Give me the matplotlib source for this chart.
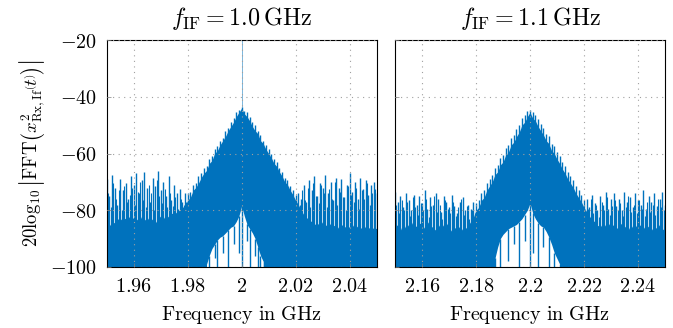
import numpy as np
import matplotlib
matplotlib.use("Agg")
import matplotlib.pyplot as plt

# FFT spectra, one sample per MHz (dB values)
freq_a = np.round(np.linspace(1.95, 2.05, 101), 3)
freq_b = np.round(np.linspace(2.15, 2.25, 101), 3)

# dense part of the spectrum (top of the solid mass)
body_a = [-85, -85.5, -84, -84.5, -83, -83.5, -82.5, -83, -82, -83.5,
          -82.5, -83, -84, -82, -83.5, -82.5, -84, -83, -84.5, -83,
          -82, -83, -81.5, -82.5, -81, -81.5, -80.5, -80, -79, -78.5,
          -76.5, -75.5, -73, -72, -70.5, -68.5, -67, -66, -63.5, -62.5,
          -60, -59, -57, -55.5, -54, -52, -50.5, -49, -47, -45.5,
          -44,
          -46, -47, -48.5, -50.5, -52, -53, -55.5, -56.5, -58.5, -60,
          -61.5, -63.5, -64.5, -66.5, -68, -70, -71, -73, -74.5, -76.5,
          -78, -80, -81.5, -82.5, -83.5, -84, -85, -84.5, -85.5, -84,
          -85, -86, -84.5, -85.5, -85, -86.5, -85, -86, -85.5, -86,
          -85, -86.5, -85.5, -86, -87, -85.5, -86, -87, -86, -86.5]
# tips of the single spikes
peak_a = [-69, -75, -67.5, -72, -78, -69, -73, -70.5, -76, -68,
          -71, -67, -74, -69.5, -66.5, -72, -77, -68.5, -71.5, -66,
          -73, -70, -75, -68, -76.5, -71, -74, -72.5, -77, -74,
          -74, -73.5, -71, -70.5, -68, -67, -65, -64.5, -62, -61,
          -58.5, -57.5, -55.5, -54.5, -52, -51, -49, -47.5, -45.5, -44.5,
          -43.5,
          -45, -45.5, -47, -49, -50, -52, -53.5, -55.5, -57, -58.5,
          -60, -62, -63, -65, -66.5, -68.5, -69.5, -71.5, -73, -74.5,
          -74, -76, -71, -77, -69.5, -73, -68, -75, -70.5, -72,
          -67.5, -74, -70, -76.5, -68.5, -72, -69, -75.5, -71, -67,
          -73.5, -70, -76, -68.5, -72.5, -69.5, -74.5, -71, -70, -74]
# spikes half a bin to the right, outer bands only (bins 0-29 and 71-99)
mid_lo_a = [-74, -79, -70.5, -76, -73, -80, -71.5, -77, -74.5, -72,
            -78, -73.5, -70, -76.5, -79, -71, -74, -80, -69.5, -75,
            -77.5, -72.5, -79, -74, -78.5, -75.5, -79.5, -76, -78, -77]
mid_hi_a = [-78, -73, -76.5, -72, -79, -70.5, -75, -77.5, -71, -74,
            -79, -72.5, -76, -70, -78, -73.5, -75.5, -80, -71.5, -74.5,
            -77, -72, -79.5, -73, -76, -70.5, -78, -74, -72.5]
# top of the empty notch under the carrier
hole_a = [-100] * 37 + [-99, -96, -93.5, -92, -90.5, -89.5, -89, -88, -87,
          -86, -85.5, -84, -82, -78.5, -82, -85, -86.5, -88, -90, -93,
          -96, -98] + [-100] * 42
# lower end of spikes reaching into the notch
dip_a = [-100] * 37 + [-99, -100, -93.5, -97, -100, -89.5, -95, -88,
         -100, -86, -92, -84, -95, -100, -82, -91, -100, -88, -96, -100,
         -100, -98] + [-100] * 42
carrier_a = -20

body_b = [-86, -85, -87, -84.5, -86.5, -85, -84, -86, -85.5, -84.5,
          -85, -86.5, -84, -85.5, -86, -87, -85, -86.5, -85, -84.5,
          -86, -87.5, -86, -87, -85.5, -87, -86.5, -85.5, -84, -82.5,
          -80, -79, -76.5, -75.5, -73, -71.5, -70, -67.5, -66.5, -64,
          -63, -60.5, -59.5, -57, -56, -54, -52.5, -50, -49, -47,
          -45.5,
          -47.5, -48.5, -50.5, -52, -53.5, -55.5, -56.5, -59, -60, -62,
          -63.5, -65.5, -67, -69, -70.5, -72, -74, -75.5, -77, -79,
          -80.5, -82, -83.5, -84, -85.5, -85, -86.5, -85, -84.5, -86,
          -85, -86.5, -85.5, -84.5, -86, -85, -87, -85.5, -86, -84.5,
          -85.5, -86.5, -85, -86, -87, -85.5, -86.5, -85, -87, -86]
peak_b = [-73.5, -77, -75, -79, -74, -76.5, -80, -74.5, -78, -75,
          -77.5, -73, -79.5, -75.5, -78, -74, -76, -80.5, -75, -77,
          -79, -74.5, -78.5, -81, -77, -75.5, -80, -78, -79.5, -77,
          -77.5, -76.5, -74, -73, -70.5, -69, -67.5, -65, -64, -61.5,
          -60.5, -58, -57, -54.5, -53.5, -51.5, -50, -47.5, -46.5, -45,
          -44.5,
          -45.5, -46.5, -48, -49.5, -51, -53, -54, -56.5, -57.5, -59.5,
          -61, -63, -64.5, -66.5, -68, -69.5, -71.5, -73, -74.5, -76.5,
          -76, -79, -74.5, -77.5, -80, -75, -78, -73.5, -79.5, -76,
          -74, -78.5, -76, -80, -73.5, -77, -75.5, -79, -74, -76.5,
          -78, -73, -79.5, -75, -77, -74, -78.5, -76, -73.5, -78]
mid_lo_b = [-78, -81, -76.5, -80, -77, -82, -75.5, -79, -81.5, -77.5,
            -80, -76, -82.5, -78.5, -75, -80.5, -78, -83, -76.5, -79.5,
            -81, -77, -82, -79, -76, -81.5, -78.5, -83, -80, -81]
mid_hi_b = [-79.5, -76, -81, -78, -82.5, -77, -80, -75.5, -81.5, -78.5,
            -76.5, -80, -77.5, -82, -79, -75, -80.5, -78, -81, -76.5,
            -79.5, -82, -77, -80.5, -78, -81.5, -76, -79, -80]
hole_b = [-100] * 37 + [-97, -93, -90, -88.5, -87.5, -86.5, -86, -85.5,
          -85, -84, -83, -81.5, -80, -77.5, -81, -83, -84.5, -85.5, -86,
          -87.5, -89.5, -92, -95, -97, -99] + [-100] * 39
dip_b = [-100] * 37 + [-100, -93, -100, -88.5, -87.5, -98, -86, -92,
         -85, -100, -83, -91, -80, -100, -95, -83, -100, -85.5, -93,
         -87.5, -100, -92, -100, -97, -100] + [-100] * 39

panels = [
    (freq_a, body_a, peak_a, mid_lo_a, mid_hi_a, hole_a, dip_a,
     r'$f_{\mathrm{IF}} = 1.0\,\mathrm{GHz}$',
     [1.96, 1.98, 2.0, 2.02, 2.04], ['1.96', '1.98', '2', '2.02', '2.04']),
    (freq_b, body_b, peak_b, mid_lo_b, mid_hi_b, hole_b, dip_b,
     r'$f_{\mathrm{IF}} = 1.1\,\mathrm{GHz}$',
     [2.16, 2.18, 2.2, 2.22, 2.24], ['2.16', '2.18', '2.2', '2.22', '2.24']),
]
yticks = [-100, -80, -60, -40, -20]

plt.rcParams['mathtext.fontset'] = 'cm'
plt.rcParams['font.size'] = 14.5
blue = '#0072BD'

fig = plt.figure(figsize=(6.73, 3.28), dpi=100)
lefts = [0.1585, 0.587]
for k, (f, body, peak, mlo, mhi, hole, dip, title, xt, xl) in enumerate(panels):
    ax = fig.add_axes([lefts[k], 0.186, 0.401, 0.692])
    body = np.array(body); peak = np.array(peak)
    hole = np.array(hole); dip = np.array(dip)
    half = (f[1] - f[0]) / 2
    ax.fill_between(f, -100, body, color=blue, lw=0)
    ax.vlines(f, body - 1, peak, color=blue, lw=1.0)
    ax.vlines(f[:30] + half, -100, mlo, color=blue, lw=0.8)
    ax.vlines(f[71:100] + half, -100, mhi, color=blue, lw=0.8)
    inner = hole > -100
    ax.fill_between(f, -100, hole, where=inner, color='white', lw=0)
    ax.vlines(f[inner], dip[inner], hole[inner], color=blue, lw=1.0)
    if k == 0:
        ax.vlines(f[50], peak[50], carrier_a, color=blue, lw=0.6, alpha=0.6)

    ax.set_xlim(f[0], f[-1])
    ax.set_ylim(-100, -20)
    ax.set_xticks(xt, ['$%s$' % s for s in xl])
    ax.set_yticks(yticks)
    if k == 0:
        ax.set_yticklabels(['$%d$' % v for v in yticks])
        ax.set_ylabel(r'$20\log_{10}\left|\mathrm{FFT}\left(x^2_{\mathrm{Rx,If}}\left(t\right)\right)\right|$',
                      labelpad=2, fontsize=13.5)
    else:
        ax.set_yticklabels([])
    ax.set_axisbelow(False)
    ax.grid(True, color='#a0a0a0', linestyle=(0, (1, 4)), lw=0.8)
    ax.tick_params(direction='in', length=3, width=0.5, color='#808080', pad=7)
    ax.set_xlabel(r'$\mathrm{Frequency\ in\ GHz}$', labelpad=6)
    ax.set_title(title, pad=11)
    for s in ax.spines.values():
        s.set_linewidth(0.8)

fig.savefig('out.png', dpi=100)
